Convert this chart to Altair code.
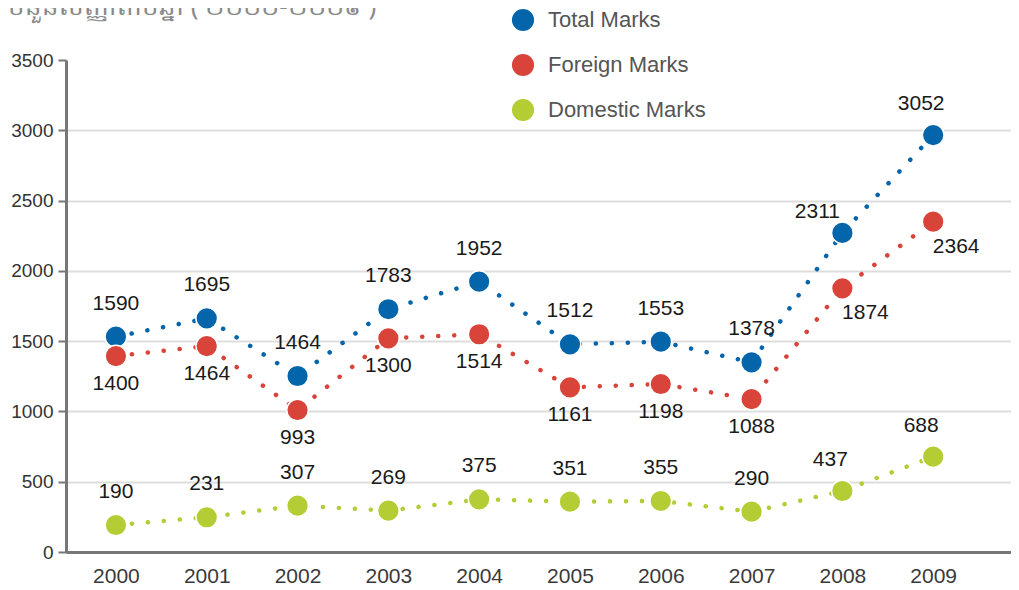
import altair as alt
import pandas as pd

years = [2000, 2001, 2002, 2003, 2004, 2005, 2006, 2007, 2008, 2009]
series_names = ["Total Marks", "Foreign Marks", "Domestic Marks"]

total = [1532, 1662, 1252, 1727, 1923, 1477, 1496, 1349, 2270, 2966]
foreign = [1394, 1465, 1010, 1520, 1549, 1171, 1195, 1088, 1876, 2350]
domestic = [192, 247, 330, 294, 375, 358, 363, 287, 434, 678]

total_labels = ["1590", "1695", "1464", "1783", "1952", "1512", "1553", "1378", "2311", "3052"]
foreign_labels = ["1400", "1464", "993", "1300", "1514", "1161", "1198", "1088", "1874", "2364"]
domestic_labels = ["190", "231", "307", "269", "375", "351", "355", "290", "437", "688"]

total_place = ["above"] * 8 + ["left", "aboveleft"]
foreign_place = ["below"] * 8 + ["belowright", "belowright"]
domestic_place = ["above"] * 8 + ["aboveleft", "aboveleft"]

y_ticks = [0, 500, 1000, 1500, 2000, 2500, 3000, 3500]
title_text = ["ចំនួនសញ្ញាតាមឆ្នាំ ( ២០០០-២០០៩ )"]

colors = ["#0565aa", "#d8443a", "#b5cd34"]

rows = []
for name, vals, labs, places in [
    ("Total Marks", total, total_labels, total_place),
    ("Foreign Marks", foreign, foreign_labels, foreign_place),
    ("Domestic Marks", domestic, domestic_labels, domestic_place),
]:
    for yr, v, lb, pl in zip(years, vals, labs, places):
        rows.append({"year": yr, "series": name, "value": v, "label": lb, "place": pl})
df = pd.DataFrame(rows)
legend_df = pd.DataFrame({"series": series_names})

FONT = "Liberation Sans"

x_enc = alt.X(
    "year:Q",
    scale=alt.Scale(domain=[1999.45, 2009.857], nice=False, zero=False),
    axis=alt.Axis(
        values=years, format="d", title=None, ticks=False, grid=False,
        domainColor="#777777", domainWidth=3, labelFontSize=21,
        labelColor="#3a3a3a", labelPadding=13, labelFont=FONT,
    ),
)
y_enc = alt.Y(
    "value:Q",
    scale=alt.Scale(domain=[0, 3500], nice=False),
    axis=alt.Axis(
        values=y_ticks, format="d", title=None, tickSize=8, tickColor="#777777", tickWidth=2,
        domainColor="#777777", domainWidth=3, labelFontSize=19, labelColor="#333333",
        labelPadding=5, labelFont=FONT, grid=True,
        gridColor=alt.condition("datum.value == 3500", alt.value("transparent"), alt.value("#dddddd")),
        gridWidth=2,
    ),
)
color_scale = alt.Scale(domain=series_names, range=colors)
color_enc = alt.Color("series:N", scale=color_scale, legend=None)

base = alt.Chart(df)

lines = base.mark_line(
    strokeDash=[0.1, 15.9], strokeWidth=4.5, strokeCap="round"
).encode(
    x=x_enc, y=y_enc, color=color_enc, detail="series:N",
)

points = base.mark_circle(size=470, opacity=1, stroke="white", strokeWidth=1.5).encode(
    x=x_enc, y=y_enc, color=color_enc,
)

offsets = {
    "above": (0, -33),
    "below": (0, 28),
    "left": (-25, -21),
    "aboveleft": (-12, -31),
    "belowright": (23, 25),
}
text_layers = []
for key, (ddx, ddy) in offsets.items():
    text_layers.append(
        base.transform_filter(alt.datum.place == key)
        .mark_text(dx=ddx, dy=ddy, fontSize=21, color="#1a1a1a", font=FONT, baseline="middle")
        .encode(x=x_enc, y=y_enc, text="label:N")
    )

title_layer = alt.Chart(pd.DataFrame({"t": title_text})).mark_text(
    align="left", baseline="alphabetic", fontSize=26, font="Noto Sans", color="#8a8a8a"
).encode(x=alt.value(-58), y=alt.value(-45), text="t:N")

main = alt.layer(lines, points, *text_layers, title_layer)

# manual legend (series names drawn through their own point scale)
leg_y = alt.Y("series:N", scale=alt.Scale(domain=series_names, range=[-40, 50], padding=0), axis=None)
legend_dots = alt.Chart(legend_df).mark_circle(size=490, opacity=1).encode(
    x=alt.value(457), y=leg_y, color=color_enc,
)
legend_text = alt.Chart(legend_df).mark_text(
    align="left", baseline="middle", fontSize=22, font=FONT, color="#555555"
).encode(x=alt.value(482), y=leg_y, text="series:N")
legend_layer = alt.layer(legend_dots, legend_text)

chart = alt.layer(main, legend_layer).resolve_scale(y="independent").properties(
    width=945,
    height=492,
    padding={"left": 58, "top": 52, "right": 0, "bottom": 36},
    autosize=alt.AutoSizeParams(type="none"),
).configure_view(stroke=None)

chart.save("out.html", embed_options={"renderer": "svg", "actions": False})
